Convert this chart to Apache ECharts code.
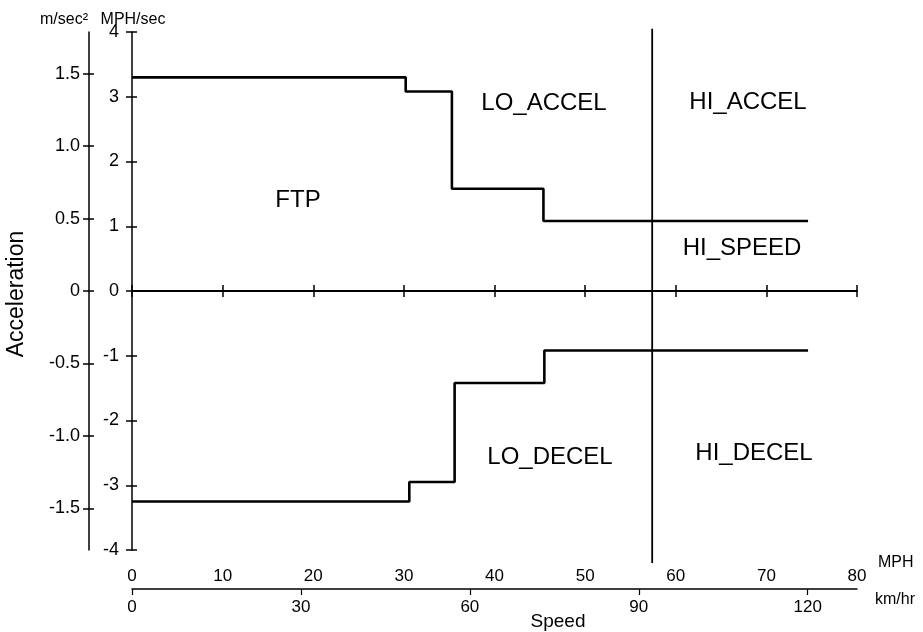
<!DOCTYPE html>
<html>
<head>
<meta charset="utf-8">
<script src="https://cdn.jsdelivr.net/npm/echarts@6/dist/echarts.min.js"></script>
<style>
html, body { margin: 0; padding: 0; background: #fff; }
#chart { width: 923px; height: 632px; }
</style>
</head>
<body>
<div id="chart"></div>
<script>
// speed in MPH, acceleration in MPH/sec
const upperSpeed = [0, 30.2, 35.3, 45.4, 74.6];
const upperAccel = [3.3, 3.08, 1.58, 1.08, 1.08];
const lowerSpeed = [0, 30.6, 35.6, 45.5, 74.6];
const lowerAccel = [-3.25, -2.95, -1.42, -0.92, -0.92];
const dividerSpeed = 57.4;
const dividerAccel = [4.05, -4.2];

const mphTicks = [0, 80, 10];        // min, max, step
const kmhStep = 30;
const msTicks = [-1.5, -1.0, -0.5, 0, 0.5, 1.0, 1.5];

const KMH_PER_MPH = 1.609344;
const MS2_PER_MPHS = 0.44704;

const font = "'Liberation Sans', Arial, sans-serif";
const black = "#000";

function pairs(xs, ys) {
  return xs.map(function (x, i) { return [x, ys[i]]; });
}

let chart = echarts.init(document.getElementById("chart"));

const msMax = 4 * MS2_PER_MPHS;

let baseX = {
  type: "value", min: mphTicks[0], max: mphTicks[1], interval: mphTicks[2],
  splitLine: { show: false }
};

function txt(x, y, text, size, align, extra) {
  return Object.assign({
    type: "text", x: x, y: y,
    style: { text: text, font: size + "px " + font, fill: black, textAlign: align || "center", textVerticalAlign: "middle" }
  }, extra || {});
}

let option = {
  animation: false,
  backgroundColor: "#fff",
  textStyle: { fontFamily: font, color: black },
  grid: { left: 132, top: 32, right: 66, bottom: 82 },
  xAxis: [
    Object.assign({}, baseX, {
      position: "bottom",
      axisLine: { onZero: true, onZeroAxisIndex: 0, lineStyle: { color: black, width: 2 } },
      axisTick: { length: 6, lineStyle: { color: black, width: 1.5 } },
      axisLabel: { show: false }
    }),
    Object.assign({}, baseX, {
      position: "bottom",
      axisLine: { show: false, onZero: true, onZeroAxisIndex: 0 },
      axisTick: { inside: true, length: 6, lineStyle: { color: black, width: 1.5 } },
      axisLabel: { show: false }
    }),
    Object.assign({}, baseX, {
      position: "bottom", offset: 39,
      axisLine: { show: false, onZero: false },
      axisTick: { show: false },
      axisLabel: { inside: true, margin: 4, fontSize: 17, color: black, fontFamily: font }
    }),
    {
      type: "value", min: 0, max: mphTicks[1] * KMH_PER_MPH, interval: kmhStep,
      position: "bottom", offset: 39,
      splitLine: { show: false },
      axisLine: { onZero: false, lineStyle: { color: black, width: 1.5 } },
      axisTick: { length: 6, lineStyle: { color: black, width: 1.2 } },
      axisLabel: { margin: 10, fontSize: 17, color: black, fontFamily: font, showMaxLabel: false }
    }
  ],
  yAxis: [
    {
      type: "value", min: -4, max: 4, interval: 1, position: "left",
      splitLine: { show: false },
      axisLine: { onZero: false, lineStyle: { color: black, width: 1.5 } },
      axisTick: { length: 6, lineStyle: { color: black, width: 1.5 } },
      axisLabel: { margin: 13, fontSize: 18, color: black, fontFamily: font }
    },
    {
      type: "value", min: -4, max: 4, interval: 1, position: "left",
      splitLine: { show: false },
      axisLine: { show: false, onZero: false },
      axisTick: { inside: true, length: 5, lineStyle: { color: black, width: 1.5 } },
      axisLabel: { show: false }
    },
    {
      type: "value", min: -msMax, max: msMax, position: "left", offset: 43,
      splitLine: { show: false },
      axisLine: { onZero: false, lineStyle: { color: black, width: 1.5 } },
      axisTick: { length: 6, customValues: msTicks, lineStyle: { color: black, width: 1.5 } },
      axisLabel: {
        margin: 9, fontSize: 18, color: black, fontFamily: font,
        customValues: msTicks,
        formatter: function (v) { return Math.abs(v) < 1e-9 ? "0" : v.toFixed(1); }
      }
    },
    {
      type: "value", min: -msMax, max: msMax, position: "left", offset: 43,
      splitLine: { show: false },
      axisLine: { show: false, onZero: false },
      axisTick: { inside: true, length: 5, customValues: msTicks, lineStyle: { color: black, width: 1.5 } },
      axisLabel: { show: false }
    }
  ],
  series: [
    {
      name: "upper", type: "line", step: "end", symbol: "none",
      xAxisIndex: 0, yAxisIndex: 0,
      lineStyle: { color: black, width: 2.6 },
      data: pairs(upperSpeed, upperAccel)
    },
    {
      name: "lower", type: "line", step: "end", symbol: "none",
      xAxisIndex: 0, yAxisIndex: 0,
      lineStyle: { color: black, width: 2.6 },
      data: pairs(lowerSpeed, lowerAccel)
    },
    {
      name: "divider", type: "line", symbol: "none", clip: false,
      xAxisIndex: 0, yAxisIndex: 0,
      lineStyle: { color: black, width: 1.8 },
      data: dividerAccel.map(function (a) { return [dividerSpeed, a]; })
    }
  ],
  graphic: [
    txt(64, 20, "m/sec²", 16),
    txt(133, 20, "MPH/sec", 16),
    txt(17, 294, "Acceleration", 23, "center", { rotation: Math.PI / 2 }),
    txt(878, 563, "MPH", 16, "left"),
    txt(875, 600, "km/hr", 16, "left"),
    txt(558, 622, "Speed", 19),
    txt(298, 200, "FTP", 24),
    txt(544, 103, "LO_ACCEL", 24),
    txt(748, 102, "HI_ACCEL", 24),
    txt(742, 248, "HI_SPEED", 24),
    txt(550, 457, "LO_DECEL", 24),
    txt(754, 453, "HI_DECEL", 24)
  ]
};

chart.setOption(option);
</script>
</body>
</html>
